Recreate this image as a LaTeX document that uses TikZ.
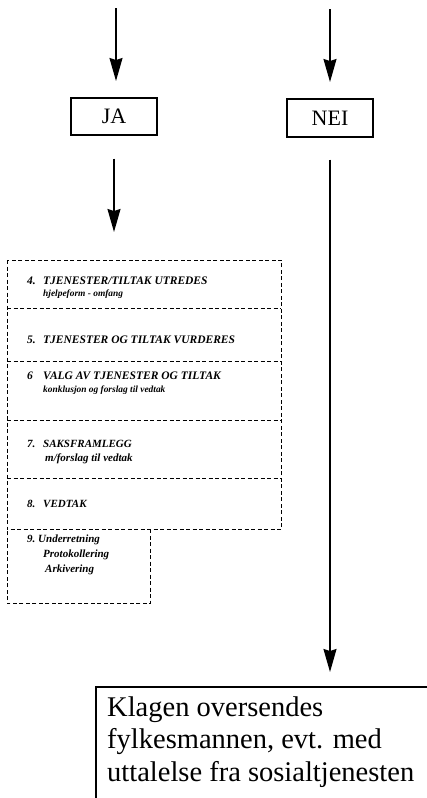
\documentclass[tikz,border=0pt]{standalone}
\usepackage{fontspec}
\setmainfont{Liberation Serif}
\usetikzlibrary{arrows.meta}
\begin{document}
\begin{tikzpicture}[x=1pt,y=-1pt,
  arr/.style={line width=1.3pt,-{Stealth[length=23pt,width=13pt,inset=2pt]}},
  solidbox/.style={draw,line width=1.4pt,inner sep=0pt},
  dsh/.style={line width=1pt,dash pattern=on 4pt off 2.5pt},
  rowbox/.style={inner sep=0pt,anchor=north west},
  ttl/.style={anchor=base west,inner sep=0pt,font=\bfseries\itshape\fontsize{11.5}{13}\selectfont},
  ttls/.style={anchor=base west,inner sep=0pt,font=\bfseries\itshape\fontsize{11}{13}\selectfont},
  sub/.style={anchor=base west,inner sep=0pt,font=\bfseries\itshape\fontsize{9.4}{11}\selectfont},
  big/.style={font=\fontsize{22}{24}\selectfont}]
\useasboundingbox (0,0) rectangle (427,798);
\fill[white] (0,0) rectangle (427,798);

% JA / NEI boxes
\node[solidbox,big,minimum width=86pt,minimum height=37pt] (ja) at (114,116.5) {JA};
\node[solidbox,big,minimum width=86pt,minimum height=38pt] (nei) at (330,118) {NEI};

% top arrows
\coordinate (a1s) at (116,8);
\coordinate (a1e) at (116,81);
\coordinate (a2s) at (330,9);
\coordinate (a2e) at (330,82);
\draw[arr] (a1s) -- (a1e);
\draw[arr] (a2s) -- (a2e);

% dashed rows
\node[rowbox,minimum width=274pt,minimum height=48pt] (r4) at (7,260) {};
\node[rowbox,minimum width=274pt,minimum height=53pt] (r5) at (7,308) {};
\node[rowbox,minimum width=274pt,minimum height=59pt] (r6) at (7,361) {};
\node[rowbox,minimum width=274pt,minimum height=58pt] (r7) at (7,420) {};
\node[rowbox,minimum width=274pt,minimum height=51pt] (r8) at (7,478) {};
\node[rowbox,minimum width=143pt,minimum height=74pt] (r9) at (7,529) {};

\draw[dsh] (r4.north west) rectangle (r8.south east);
\draw[dsh] (r4.south west) -- (r4.south east);
\draw[dsh] (r5.south west) -- (r5.south east);
\draw[dsh] (r6.south west) -- (r6.south east);
\draw[dsh] (r7.south west) -- (r7.south east);
\draw[dsh] (r9.north east) -- (r9.south east) -- (r9.south west) -- (r9.north west);

% arrow JA -> rows
\draw[arr] ([yshift=-23pt]ja.south) -- ([yshift=28pt]ja.south |- r4.north);

% row texts
\node[ttl] (t4a) at (27,284) {\makebox[16pt][l]{4.}TJENESTER/TILTAK UTREDES};
\node[sub] (t4b) at (43,296) {hjelpeform - omfang};
\node[ttl] (t5) at (27,343) {\makebox[16pt][l]{5.}TJENESTER OG TILTAK VURDERES};
\node[ttl] (t6a) at (27,379) {\makebox[16pt][l]{6}VALG AV TJENESTER OG TILTAK};
\node[sub] (t6b) at (43,392) {konklusjon og forslag til vedtak};
\node[ttls] (t7a) at (27,447) {\makebox[16pt][l]{7.}SAKSFRAMLEGG};
\node[ttls] (t7b) at (45,461) {m/forslag til vedtak};
\node[ttls] (t8) at (27,507) {\makebox[16pt][l]{8.}VEDTAK};
\node[ttls] (t9a) at (27,542) {\makebox[11pt][l]{9.}Underretning};
\node[ttls] (t9b) at (43,557) {Protokollering};
\node[ttls] (t9c) at (45,572) {Arkivering};

% bottom box
\node[rowbox,minimum width=331pt,minimum height=111pt] (klage) at (96,687) {};
\draw[line width=1.4pt] (klage.south west) -- (klage.north west) -- (klage.north east);
\node[anchor=base west,inner sep=0pt,align=left,font=\fontsize{28.5}{32.5}\selectfont] (klagetxt) at (107,781)
  {Klagen oversendes\\fylkesmannen, evt. med\\uttalelse fra sosialtjenesten};

% NEI -> klage
\draw[arr] ([yshift=-22pt]nei.south) -- ([yshift=15pt]nei.south |- klage.north);
\end{tikzpicture}
\end{document}
